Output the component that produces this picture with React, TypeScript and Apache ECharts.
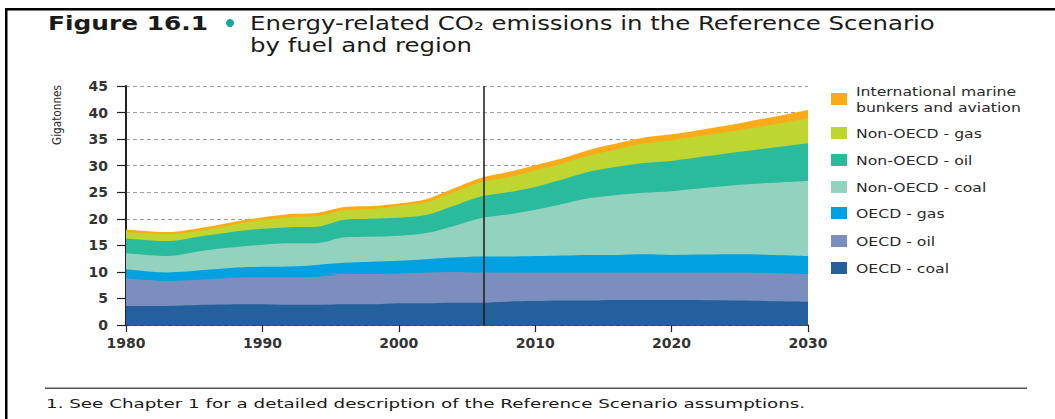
import React, { useEffect, useRef } from "react";
import * as echarts from "echarts";

const years = [1980, 1983, 1986, 1989, 1992, 1994, 1996, 1998, 2000, 2002, 2004, 2006, 2008, 2010, 2012, 2014, 2016, 2018, 2020, 2025, 2030];
const oecdCoal = [3.6, 3.6, 3.8, 3.9, 3.8, 3.8, 3.9, 3.9, 4.1, 4.1, 4.2, 4.2, 4.4, 4.5, 4.6, 4.6, 4.7, 4.7, 4.7, 4.6, 4.4];
const oecdOil = [5.2, 4.7, 4.8, 5.1, 5.2, 5.3, 5.7, 5.7, 5.6, 5.8, 5.8, 5.7, 5.5, 5.4, 5.3, 5.3, 5.2, 5.2, 5.2, 5.3, 5.2];
const oecdGas = [1.7, 1.6, 1.8, 1.9, 2.0, 2.2, 2.1, 2.3, 2.4, 2.5, 2.7, 3.0, 3.0, 3.1, 3.2, 3.3, 3.3, 3.4, 3.3, 3.4, 3.4];
const nonOecdCoal = [3.0, 3.1, 3.7, 4.0, 4.4, 4.1, 4.8, 4.7, 4.7, 4.9, 5.9, 7.2, 7.9, 8.7, 9.7, 10.7, 11.3, 11.6, 12.0, 13.1, 14.1];
const nonOecdOil = [2.8, 2.8, 2.8, 3.0, 3.0, 3.1, 3.3, 3.4, 3.4, 3.4, 3.8, 4.1, 4.2, 4.3, 4.6, 5.0, 5.3, 5.6, 5.7, 6.2, 7.1];
const nonOecdGas = [1.2, 1.3, 1.1, 1.5, 1.9, 2.0, 1.8, 1.8, 2.2, 2.4, 2.6, 2.7, 2.8, 3.1, 3.0, 3.0, 3.3, 3.7, 3.9, 4.1, 4.7];
const bunkers = [0.5, 0.4, 0.5, 0.5, 0.6, 0.6, 0.6, 0.6, 0.5, 0.6, 0.7, 0.8, 1.0, 1.0, 1.0, 1.1, 1.1, 1.1, 1.1, 1.3, 1.6];

const seriesNames = ["OECD - coal", "OECD - oil", "OECD - gas", "Non-OECD - coal", "Non-OECD - oil", "Non-OECD - gas", "International marine\nbunkers and aviation"];
const seriesValues = [oecdCoal, oecdOil, oecdGas, nonOecdCoal, nonOecdOil, nonOecdGas, bunkers];
const seriesColors = ["#24609c", "#7a8fbe", "#00a0e1", "#93d2bf", "#29bb9c", "#bfd630", "#fbab1a"];

const baseYear = 2006.2;
const titleFig = "Figure 16.1";
const titleLine1 = "Energy-related CO\u2082 emissions in the Reference Scenario";
const titleLine2 = "by fuel and region";
const footnote = "1. See Chapter 1 for a detailed description of the Reference Scenario assumptions.";
const yAxisName = "Gigatonnes";

function measure(text: string, font: string): number {
  const c = document.createElement("canvas");
  const ctx = c.getContext("2d");
  if (!ctx) return text.length * 8;
  ctx.font = font;
  return ctx.measureText(text).width;
}

export default function App() {
  const ref = useRef<HTMLDivElement>(null);
  useEffect(() => {
    if (!ref.current) return;
    const chart = echarts.init(ref.current, undefined, { renderer: "svg" });
    const fam = "'DejaVu Sans', sans-serif";

    const figFont = `bold 19px ${fam}`;
    const titleFont = `19px ${fam}`;
    const footFont = `13px ${fam}`;
    const legFont = `13px ${fam}`;
    const figScale = 160 / measure(titleFig, figFont);
    const titleScale = 685 / measure(titleLine1, titleFont);
    const footScale = 760 / measure(footnote, footFont);
    const axisNameScale = 60 / measure(yAxisName, `13px ${fam}`);
    const legScale = 126 / measure("Non-OECD - gas", legFont);

    const legendOrder = [6, 5, 4, 3, 2, 1, 0];
    const legendY = [99, 133, 160, 187, 213, 241, 268];
    const legendGraphics: any[] = [];
    legendOrder.forEach((si, i) => {
      legendGraphics.push({
        type: "rect",
        shape: { x: 831, y: legendY[i] - 6, width: 16, height: 12 },
        style: { fill: seriesColors[si] },
      });
      const lines = seriesNames[si].split("\n");
      lines.forEach((ln, li) => {
        const cy = lines.length === 1 ? legendY[i] : legendY[i] - 7.5 + li * 16;
        legendGraphics.push({
          type: "text",
          x: 856,
          y: cy,
          scaleX: legScale,
          style: { text: ln, font: legFont, fill: "#2a2a2a", align: "left", verticalAlign: "middle" },
        });
      });
    });

    // cumulative tops of each stacked layer
    const cumulative: number[][] = [];
    seriesValues.forEach((vals, i) => {
      cumulative.push(vals.map((v, j) => +(v + (i > 0 ? cumulative[i - 1][j] : 0)).toFixed(2)));
    });

    // draw from the top layer down so that lower layers cover the upper ones' fill
    const series: any[] = [];
    for (let i = seriesValues.length - 1; i >= 0; i--) {
      series.push({
        name: seriesNames[i],
        type: "line",
        smooth: 0.3,
        showSymbol: false,
        symbol: "none",
        lineStyle: { width: 0 },
        areaStyle: { color: seriesColors[i], opacity: 1 },
        itemStyle: { color: seriesColors[i] },
        data: years.map((y, j) => [y, cumulative[i][j]]),
      });
    }
    series[series.length - 1].markLine = {
      silent: true,
      symbol: ["none", "none"],
      label: { show: false },
      lineStyle: { color: "#1a1a1a", width: 1.5, type: "solid" },
      data: [{ xAxis: baseYear }],
    };

    chart.setOption({
      animation: false,
      backgroundColor: "#ffffff",
      grid: { left: 126, right: 247, top: 86, bottom: 94 },
      xAxis: {
        type: "value",
        min: 1980,
        max: 2030,
        interval: 10,
        axisLine: { show: true, onZero: false, lineStyle: { color: "#222", width: 1.5 } },
        axisTick: { show: true, length: 7, lineStyle: { color: "#222", width: 1.2 } },
        axisLabel: { margin: 11, color: "#333", fontFamily: "DejaVu Sans", fontWeight: "bold", fontSize: 14, formatter: (v: number) => String(v) },
        splitLine: { show: false },
      },
      yAxis: {
        type: "value",
        min: 0,
        max: 45,
        interval: 5,
        axisLine: { show: true, lineStyle: { color: "#222", width: 2 } },
        axisTick: { show: true, length: 9, lineStyle: { color: "#222", width: 1.2 } },
        axisLabel: { margin: 18, color: "#333", fontFamily: "DejaVu Sans", fontWeight: "bold", fontSize: 14 },
        splitLine: { show: true, lineStyle: { color: "#a0a0a0", width: 1, type: [4, 3] } },
      },
      series,
      graphic: [
        { type: "rect", shape: { x: 5, y: 8, width: 1050, height: 2.5 }, style: { fill: "#000" } },
        { type: "rect", shape: { x: 5, y: 8, width: 2.5, height: 411 }, style: { fill: "#000" } },
        {
          type: "text", x: 48, y: 23, scaleX: figScale,
          style: { text: titleFig, font: figFont, fill: "#1a1a1a", align: "left", verticalAlign: "middle" },
        },
        { type: "circle", shape: { cx: 230, cy: 23, r: 4 }, style: { fill: "#17a59b" } },
        {
          type: "text", x: 250, y: 23, scaleX: titleScale,
          style: { text: titleLine1, font: titleFont, fill: "#1a1a1a", align: "left", verticalAlign: "middle" },
        },
        {
          type: "text", x: 250, y: 45, scaleX: titleScale,
          style: { text: titleLine2, font: titleFont, fill: "#1a1a1a", align: "left", verticalAlign: "middle" },
        },
        {
          type: "text", x: 57, y: 145, rotation: Math.PI / 2, scaleX: axisNameScale,
          style: { text: yAxisName, font: `13px ${fam}`, fill: "#2a2a2a", align: "left", verticalAlign: "middle" },
        },
        { type: "rect", shape: { x: 45, y: 387.5, width: 982, height: 1.5 }, style: { fill: "#555" } },
        {
          type: "text", x: 46, y: 403, scaleX: footScale,
          style: { text: footnote, font: footFont, fill: "#1a1a1a", align: "left", verticalAlign: "middle" },
        },
        ...legendGraphics,
      ],
    });
    return () => chart.dispose();
  }, []);
  return <div ref={ref} style={{ position: "fixed", left: 0, top: 0, width: 1055, height: 419 }} />;
}
